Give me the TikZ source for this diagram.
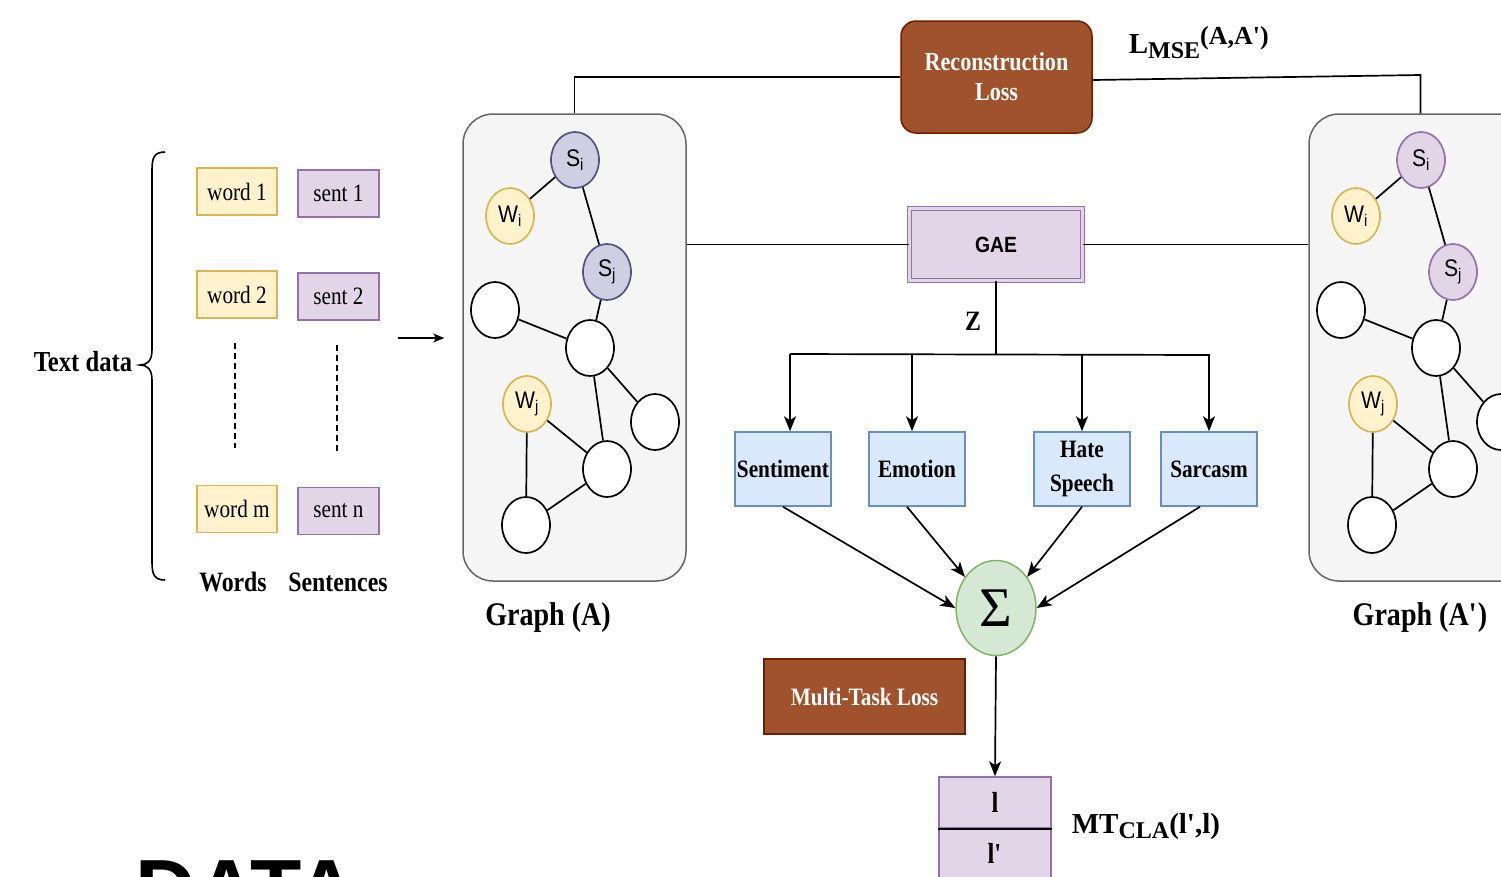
\documentclass[tikz,border=0pt]{standalone}
\usepackage{fontspec}
\setmainfont{Liberation Serif}[FakeStretch=0.85]
\setsansfont{Liberation Sans}[FakeStretch=0.88]
\newfontfamily\datafont{Liberation Sans}
\newfontfamily\wideserif{Liberation Serif}
\usetikzlibrary{arrows.meta,shapes.geometric}
\definecolor{wfill}{HTML}{FFF2CC}
\definecolor{wdraw}{HTML}{D6B656}
\definecolor{pfill}{HTML}{E1D5E7}
\definecolor{pdraw}{HTML}{9673A6}
\definecolor{sfill}{HTML}{D0CEE2}
\definecolor{sdraw}{HTML}{56517E}
\definecolor{gfill}{HTML}{F5F5F5}
\definecolor{gdraw}{HTML}{666666}
\definecolor{bfill}{HTML}{A0522D}
\definecolor{bdraw}{HTML}{6D1F00}
\definecolor{tfill}{HTML}{DAE8FC}
\definecolor{tdraw}{HTML}{6C8EBF}
\definecolor{sgfill}{HTML}{D5E8D4}
\definecolor{sgdraw}{HTML}{82B366}
\newcommand\fsz[2]{\fontsize{#1}{#2}\selectfont}
\newcommand\drawgraph[4]{%
\begin{scope}[xshift=#2]
\node[gbox] (#1box) at (574.5,347.5) {};
\node[gnode,fill=#3,draw=#4] (#1si) at (575,160) {S\textsubscript{i}};
\node[gnode,fill=wfill,draw=wdraw] (#1wi) at (510,216) {W\textsubscript{i}};
\node[gnode,fill=#3,draw=#4] (#1sj) at (607,272) {S\textsubscript{j}};
\node[gnode] (#1na) at (495,310) {};
\node[gnode] (#1nb) at (590,348) {};
\node[gnode,fill=wfill,draw=wdraw] (#1wj) at (527,404) {W\textsubscript{j}};
\node[gnode] (#1nc) at (655,422) {};
\node[gnode] (#1nd) at (607,469) {};
\node[gnode] (#1ne) at (526,525) {};
\draw[edge] (#1si)--(#1wi) (#1si)--(#1sj) (#1sj)--(#1nb) (#1na)--(#1nb)
  (#1nb)--(#1nc) (#1nb)--(#1nd) (#1wj)--(#1nd) (#1wj)--(#1ne) (#1ne)--(#1nd);
\end{scope}}
\begin{document}
\begin{tikzpicture}[x=1pt,y=-1pt,
  line width=1.7pt,
  edge/.style={line width=1.7pt},
  arr/.style={line width=1.7pt,-{Stealth[length=15pt,width=12pt,inset=4pt]}},
  gbox/.style={draw=gdraw,fill=gfill,rounded corners=30pt,minimum width=223pt,minimum height=467pt,line width=1.5pt},
  gnode/.style={ellipse,draw=black,fill=white,line width=1.7pt,minimum width=48pt,minimum height=56pt,inner sep=0pt,font=\sffamily\fsz{24}{26}},
  wbox/.style={draw=wdraw,fill=wfill,minimum width=80pt,minimum height=47pt,inner sep=0pt,font=\fsz{25}{28},line width=1.5pt},
  sbox/.style={wbox,draw=pdraw,fill=pfill,minimum width=81pt},
  task/.style={draw=tdraw,fill=tfill,minimum width=96pt,minimum height=74pt,inner sep=0pt,align=center,font=\bfseries\fsz{25}{34},line width=1.5pt},
  brownbox/.style={draw=bdraw,fill=bfill,text=white,inner sep=0pt,align=center,line width=1.5pt},
  lbl/.style={font=\bfseries\fsz{28}{32},inner sep=0pt},
  lcell/.style={draw=pdraw,fill=pfill,minimum width=112pt,minimum height=51pt,inner sep=0pt,font=\bfseries\fsz{29}{30},line width=1.5pt}
]
\useasboundingbox (0,0) rectangle (1501,876);
\clip (0,0) rectangle (1501,876);
\fill[white] (0,0) rectangle (1501,876);

% text data block
\node[font=\bfseries\fsz{29}{32},anchor=east,inner sep=0pt] (tdata) at (133,362) {Text data};
\draw[line width=1.6pt] (165,152) .. controls (154,152) and (152,158) .. (152,170) -- (152,350)
  .. controls (152,361) and (147,365) .. (140,365)
  .. controls (147,365) and (152,369) .. (152,380) -- (152,562)
  .. controls (152,574) and (154,580) .. (165,580);
\node[wbox] (w1) at (237,191.5) {word 1};
\node[sbox] (s1) at (338.5,193.5) {sent 1};
\node[wbox] (w2) at (237,294.5) {word 2};
\node[sbox] (s2) at (338.5,296.5) {sent 2};
\node[wbox] (wm) at (237,509) {word m};
\node[sbox] (sn) at (338.5,511) {sent n};
\draw[line width=1.5pt,dash pattern=on 6pt off 4pt] ([xshift=-2pt,yshift=-24pt]w2.south) -- ([xshift=-2pt,yshift=37pt]wm.north);
\draw[line width=1.5pt,dash pattern=on 6pt off 4pt] ([xshift=-1.5pt,yshift=-24pt]s2.south) -- ([xshift=-1.5pt,yshift=36pt]sn.north);
\node[lbl,font=\bfseries\fsz{28}{30}] (wlab) at (233,582) {Words};
\node[lbl,font=\bfseries\fsz{28}{30}] (slab) at (338,582) {Sentences};

% graphs
\drawgraph{gA}{0pt}{sfill}{sdraw}
\drawgraph{gB}{846pt}{pfill}{pdraw}
\node[lbl,font=\bfseries\fsz{33}{36}] (galab) at (548,618) {Graph (A)};
\node[lbl,font=\bfseries\fsz{33}{36}] (gblab) at (1420,618) {Graph (A\textquotesingle)};

\coordinate (inS) at (398,338);
\draw[line width=1.7pt,-{Stealth[length=11pt,width=9pt,inset=3pt]},shorten >=18pt] (inS) -- (gAbox.west |- inS);

% reconstruction loss
\node[brownbox,rounded corners=15pt,minimum width=191pt,minimum height=112pt,font=\bfseries\fsz{26}{30}] (recon) at (996.5,77) {Reconstruction\\Loss};
\draw[line width=1.7pt] (gAbox.north) |- (recon.west);
\coordinate (cB) at (gBbox.north |- 0,75);
\draw[line width=1.7pt] ([yshift=-3pt]recon.east) -- (cB) -- (gBbox.north);
\node[anchor=base west,inner sep=0pt,font=\wideserif\bfseries\fsz{29}{30}] (lmse) at (1128,53)
  {L\raisebox{-5pt}{\fsz{24}{26}MSE}\raisebox{9pt}{\fsz{26}{26}(A,A\textquotesingle)}};

% GAE
\node[draw=pdraw,fill=pfill,double=pfill,double distance=2.5pt,line width=1.3pt,minimum width=173pt,minimum height=72pt,inner sep=0pt,font=\sffamily\bfseries\fsz{22}{24}] (gae) at (996,244.5) {GAE};
\draw[line width=1.7pt] (gae.west -| gAbox.east) -- (gae.west);
\draw[line width=1.7pt] (gae.east) -- (gae.east -| gBbox.west);

\coordinate (zb) at (996,355);
\draw[line width=1.7pt] (gae.south) -- (zb);
\node[lbl,font=\bfseries\fsz{28}{30}] (zlab) at (973,321) {Z};
\coordinate (hl) at (790,354);
\coordinate (hr) at (1210,355);
\draw[line width=1.7pt] (hl) -- (hr);

% tasks
\node[task] (t1) at (783,469) {Sentiment};
\node[task] (t2) at (917,469) {Emotion};
\node[task] (t3) at (1082,469) {Hate\\Speech};
\node[task] (t4) at (1209,469) {Sarcasm};
\coordinate (a1) at (790,354);
\coordinate (a2) at (912,354);
\coordinate (a3) at (1082,355);
\coordinate (a4) at (1209,355);
\draw[arr] (a1) -- (a1 |- t1.north);
\draw[arr] (a2) -- (a2 |- t2.north);
\draw[arr] (a3) -- (a3 |- t3.north);
\draw[arr] (a4) -- (a4 |- t4.north);

% sigma
\node[ellipse,draw=sgdraw,fill=sgfill,line width=1.5pt,minimum width=80pt,minimum height=95pt,inner sep=0pt,font=\wideserif\fsz{56}{58}] (sig) at (996,608) {\raisebox{-2pt}{Σ}};
\draw[arr] (t1.south) -- (sig.west);
\draw[arr] ([xshift=-10pt]t2.south) -- (sig.135);
\draw[arr] (t3.south) -- (sig.45);
\draw[arr] ([xshift=-9pt]t4.south) -- (sig.east);

% multi-task loss
\node[brownbox,minimum width=201pt,minimum height=75pt,font=\bfseries\fsz{25}{28}] (mtl) at (864.5,696.5) {Multi-Task Loss};

% output labels
\node[lcell] (l1) at (995,802.5) {l};
\node[lcell] (l2) at (995,853.5) {l\textquotesingle};
\draw[line width=1.7pt] (l1.south west) -- (l1.south east);
\draw[arr] (sig.south) -- (l1.north);
\node[anchor=base west,inner sep=0pt,font=\wideserif\bfseries\fsz{29}{30}] (mtcla) at (1071,833)
  {MT\raisebox{-5pt}{\fsz{24}{26}CLA}(l\textquotesingle,l)};

% cut-off heading
\node[anchor=base west,inner sep=0pt,font=\datafont\bfseries\fsz{84}{86}] (data) at (135,918) {DATA};
\end{tikzpicture}
\end{document}
